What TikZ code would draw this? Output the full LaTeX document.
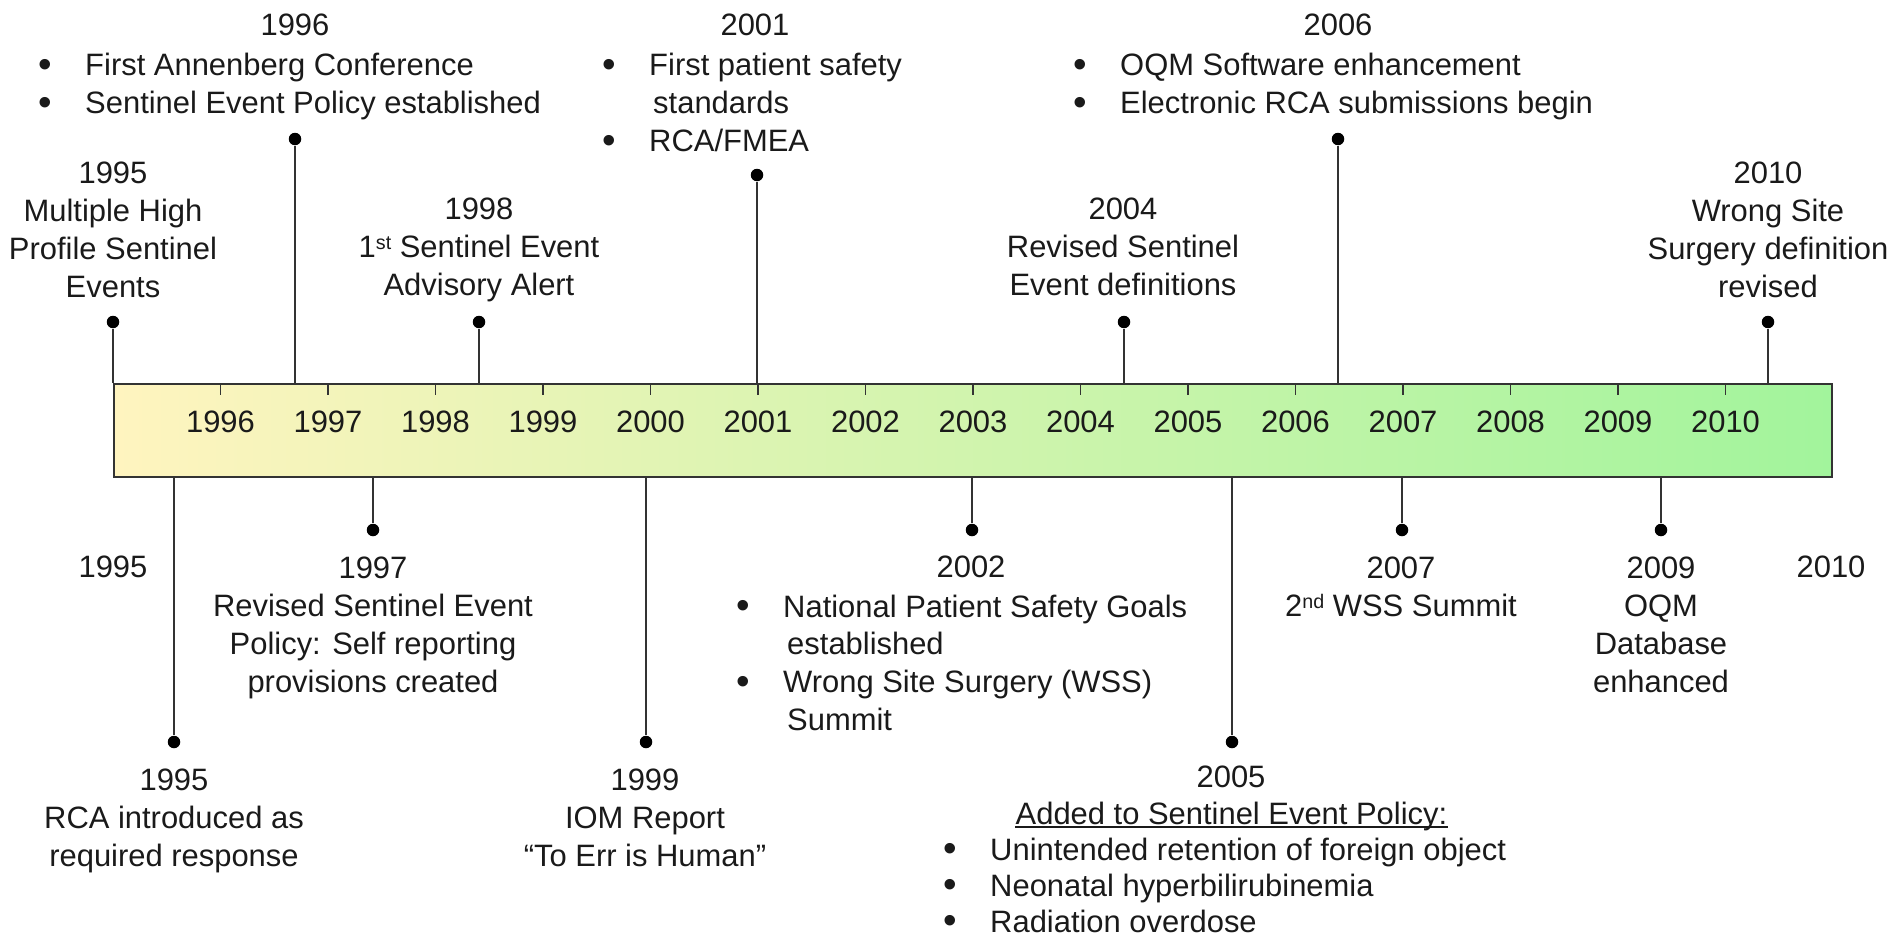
\documentclass[tikz,border=0pt]{standalone}
\usepackage{fontspec}
\setmainfont{Liberation Sans}
\usepackage{xcolor}
\definecolor{ink}{HTML}{1A1A1A}
\definecolor{rule}{HTML}{333333}
\definecolor{barleft}{HTML}{FFF4BF}
\definecolor{barmid}{HTML}{D6F7B3}
\definecolor{barright}{HTML}{A2F49C}
\newcommand{\evtfont}{\fontsize{8.8}{10.8}\selectfont}
\newcommand{\ord}[1]{\raisebox{2.3pt}{\fontsize{5.6}{6}\selectfont #1}}
\newcommand{\itm}{\raisebox{-0.4pt}{\fontsize{11}{10.8}\selectfont\textbullet}}

\begin{document}
\begin{tikzpicture}[
  lbl/.style={align=center, inner sep=0pt, anchor=north, text=ink, font=\evtfont},
  lst/.style={inner sep=0pt, anchor=base west, text=ink, font=\evtfont},
  yr/.style={inner sep=0pt, text=ink, font=\evtfont},
  pin/.style={circle, fill=black, inner sep=0pt, minimum size=0.125cm},
  stem/.style={draw=rule, line width=0.45pt}
]
  \useasboundingbox (0,0) rectangle (18.93,-9.44);

  % Bar with years
  \node[draw=rule, line width=0.6pt, left color=barleft, middle color=barmid, right color=barright,
        minimum width=17.18cm, minimum height=0.93cm, inner sep=0pt, anchor=north west] (bar) at (1.13,-3.83) {};
  \foreach \i in {1,...,15} {
    \pgfmathtruncatemacro\yr{1995+\i}
    \draw[stem] (1.13+1.075*\i,-3.83) -- ++(0,-0.12);
    \node[yr] (t\yr) at (1.13+1.075*\i,-4.22) {\yr};
  }
  \node[yr] (end95) at (1.13,-5.67) {1995};
  \node[yr] (end10) at (18.31,-5.67) {2010};

  % Above the bar
  \node[pin] (e95) at (1.13,-3.22) {};
  \node[lbl] (l95) at (1.13,-1.61) {1995\\Multiple High\\Profile Sentinel\\Events};

  \node[pin] (e96) at (2.95,-1.39) {};
  \node[yr] (y96) at (2.95,-0.25) {1996};
  \node[lst] (l96) at (0.38,-0.76) {\begin{tabular}[t]{@{}l@{\hspace{0.33cm}}l@{}}
    \itm & First Annenberg Conference\\
    \itm & Sentinel Event Policy established
  \end{tabular}};

  \node[pin] (e98) at (4.79,-3.22) {};
  \node[lbl] (l98) at (4.79,-1.97) {1998\\1\ord{st} Sentinel Event\\Advisory Alert};

  \node[pin] (e01) at (7.57,-1.75) {};
  \node[yr] (y01) at (7.55,-0.25) {2001};
  \node[lst] (l01) at (6.02,-0.76) {\begin{tabular}[t]{@{}l@{\hspace{0.33cm}}l@{}}
    \itm & First patient safety\\
         & \hspace{0.04cm}standards\\
    \itm & RCA/FMEA
  \end{tabular}};

  \node[pin] (e04) at (11.24,-3.22) {};
  \node[lbl] (l04) at (11.23,-1.97) {2004\\Revised Sentinel\\Event definitions};

  \node[pin] (e06) at (13.38,-1.39) {};
  \node[yr] (y06) at (13.38,-0.25) {2006};
  \node[lst] (l06) at (10.73,-0.76) {\begin{tabular}[t]{@{}l@{\hspace{0.33cm}}l@{}}
    \itm & OQM Software enhancement\\
    \itm & Electronic RCA submissions begin
  \end{tabular}};

  \node[pin] (e10) at (17.68,-3.22) {};
  \node[lbl] (l10) at (17.68,-1.61) {2010\\Wrong Site\\Surgery definition\\revised};

  % Below the bar
  \node[pin] (b95) at (1.74,-7.42) {};
  \node[lbl] (m95) at (1.74,-7.68) {1995\\RCA introduced as\\required response};

  \node[pin] (b97) at (3.73,-5.30) {};
  \node[lbl] (m97) at (3.73,-5.56) {1997\\Revised Sentinel Event\\Policy: Self reporting\\provisions created};

  \node[pin] (b99) at (6.46,-7.42) {};
  \node[lbl] (m99) at (6.45,-7.68) {1999\\IOM Report\\“To Err is Human”};

  \node[pin] (b02) at (9.72,-5.30) {};
  \node[yr] (z02) at (9.71,-5.67) {2002};
  \node[lst] (m02) at (7.36,-6.17) {\begin{tabular}[t]{@{}l@{\hspace{0.33cm}}l@{}}
    \itm & National Patient Safety Goals\\
         & \hspace{0.04cm}established\\
    \itm & Wrong Site Surgery (WSS)\\
         & \hspace{0.04cm}Summit
  \end{tabular}};

  \node[pin] (b05) at (12.32,-7.42) {};
  \node[yr] (z05) at (12.31,-7.77) {2005};
  \node[lst] (h05) at (10.15,-8.24) {Added to Sentinel Event Policy:};
  \draw[ink, line width=0.45pt] ([yshift=-0.03cm]h05.base west) -- ([yshift=-0.03cm]h05.base east);
  \node[lst] (m05) at (9.43,-8.60) {\renewcommand{\arraystretch}{0.95}\begin{tabular}[t]{@{}l@{\hspace{0.33cm}}l@{}}
    \itm & Unintended retention of foreign object\\
    \itm & Neonatal hyperbilirubinemia\\
    \itm & Radiation overdose
  \end{tabular}};

  \node[pin] (b07) at (14.02,-5.30) {};
  \node[lbl] (m07) at (14.01,-5.56) {2007\\2\ord{nd} WSS Summit};

  \node[pin] (b09) at (16.61,-5.30) {};
  \node[lbl] (m09) at (16.61,-5.56) {2009\\OQM\\Database\\enhanced};

  % Stems
  \foreach \e in {e95,e96,e98,e01,e04,e06,e10}
    \draw[stem] (\e |- bar.north) -- (\e);
  \foreach \b in {b95,b97,b99,b02,b05,b07,b09}
    \draw[stem] (\b |- bar.south) -- (\b);
\end{tikzpicture}
\end{document}
